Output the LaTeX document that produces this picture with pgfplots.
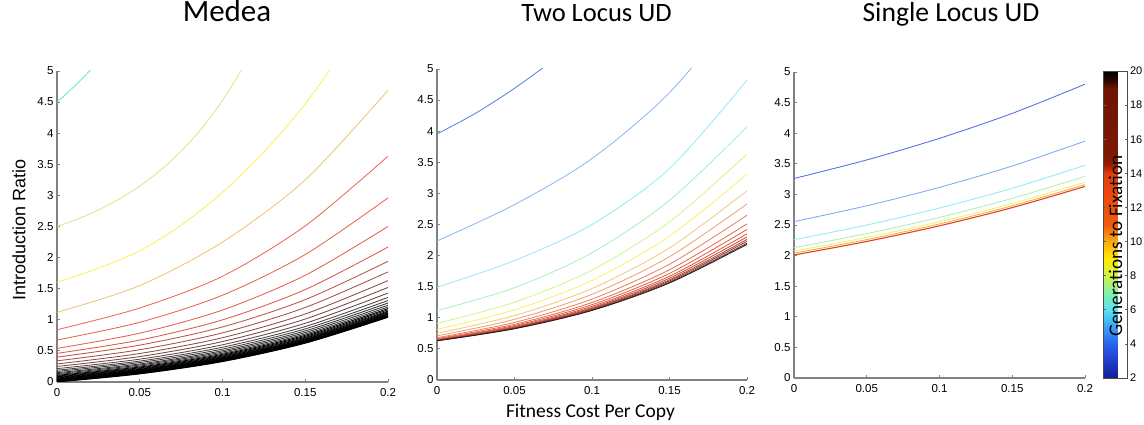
\documentclass[border=0pt]{standalone}
\usepackage{fontspec}
\setmainfont{Liberation Sans}
\newfontfamily\calibri{Carlito}
\usepackage{pgfplots}
\pgfplotsset{compat=1.18}

\definecolor{axgray}{RGB}{130,130,130}
% Medea
\definecolor{ma}{RGB}{110,230,210}
\definecolor{mb}{RGB}{200,240,140}
\definecolor{mc}{RGB}{248,240,90}
\definecolor{md}{RGB}{240,195,120}
\definecolor{me}{RGB}{235,105,85}
\definecolor{mf}{RGB}{232,100,80}
\definecolor{mg}{RGB}{228,95,75}
\definecolor{mh}{RGB}{215,90,72}
\definecolor{mi}{RGB}{185,85,70}
\definecolor{mj}{RGB}{160,82,72}
\definecolor{mk}{RGB}{135,78,72}
\definecolor{ml}{RGB}{115,72,70}
\definecolor{mm}{RGB}{95,68,68}
\definecolor{mn}{RGB}{80,65,65}
\definecolor{mo}{RGB}{65,60,60}
\definecolor{mp}{RGB}{50,50,50}
% Two locus
\definecolor{ta}{RGB}{90,130,230}
\definecolor{tb}{RGB}{140,185,240}
\definecolor{tc}{RGB}{150,235,245}
\definecolor{td}{RGB}{170,240,190}
\definecolor{te}{RGB}{210,245,140}
\definecolor{tf}{RGB}{250,240,110}
\definecolor{tg}{RGB}{245,200,130}
\definecolor{th}{RGB}{240,160,120}
\definecolor{ti}{RGB}{235,130,100}
\definecolor{tj}{RGB}{230,110,85}
\definecolor{tk}{RGB}{225,100,75}
\definecolor{tl}{RGB}{215,90,65}
\definecolor{tm}{RGB}{200,80,60}
\definecolor{tn}{RGB}{180,70,55}
\definecolor{to}{RGB}{150,60,50}
\definecolor{tp}{RGB}{110,50,45}
\definecolor{tq}{RGB}{40,30,30}
% Single locus
\definecolor{sa}{RGB}{80,110,225}
\definecolor{sb}{RGB}{120,170,240}
\definecolor{sc}{RGB}{140,235,245}
\definecolor{sd}{RGB}{170,240,180}
\definecolor{se}{RGB}{240,240,110}
\definecolor{sf}{RGB}{245,170,70}
\definecolor{sg}{RGB}{220,70,30}

\pgfplotsset{
  colormap={gen}{
    rgb255(4pt)=(20,30,150)
    rgb255(6pt)=(30,60,205)
    rgb255(8pt)=(40,100,235)
    rgb255(10pt)=(60,160,245)
    rgb255(12pt)=(90,225,245)
    rgb255(14pt)=(130,240,170)
    rgb255(16pt)=(210,245,70)
    rgb255(18pt)=(255,235,0)
    rgb255(20pt)=(250,170,20)
    rgb255(22pt)=(240,90,15)
    rgb255(28pt)=(230,60,10)
    rgb255(29pt)=(150,30,5)
    rgb255(30pt)=(125,25,3)
    rgb255(38pt)=(110,20,3)
    rgb255(39pt)=(40,5,0)
    rgb255(40pt)=(0,0,0)
  },
  panel/.style={
    scale only axis, anchor=south west,
    xmin=0, xmax=0.2, ymin=0, ymax=5,
    axis x line*=bottom, axis y line*=left,
    axis line style={-, draw=axgray, line width=1.1pt},
    xtick={0,0.05,0.1,0.15,0.2}, xticklabels={0,0.05,0.1,0.15,0.2},
    ytick={0,0.5,1,1.5,2,2.5,3,3.5,4,4.5,5},
    yticklabels={0,0.5,1,1.5,2,2.5,3,3.5,4,4.5,5},
    tick align=inside, major tick length=3pt,
    tick style={draw=axgray, line width=0.8pt},
    ticklabel style={font=\fontsize{11.5}{12}\selectfont},
    xticklabel style={yshift=-3pt},
    every axis plot/.append style={smooth, no marks, line width=0.85pt},
    title style={font=\calibri\fontsize{28}{30}\selectfont, anchor=base, yshift=0pt},
  },
}

\begin{document}
\begin{tikzpicture}
\useasboundingbox (0,0) rectangle (1144pt,425pt);

% ---------------- Medea ----------------
\begin{axis}[panel, at={(57pt,43pt)}, width=331pt, height=311pt,
  title={Medea},
  title style={at={(axis description cs:0.5136,1.1399)}, font=\calibri\fontsize{31}{32}\selectfont},
  ylabel={Introduction Ratio},
  ylabel style={font=\fontsize{18}{20}\selectfont, at={(axis description cs:-0.115,0.49)}, anchor=center, rotate=0}]
\addplot[ma] coordinates {(0,4.5) (0.01,4.74) (0.02,5.01) (0.03,5.3)};
\addplot[mb] coordinates {(0,2.5) (0.0125,2.62) (0.025,2.765) (0.0375,2.939) (0.05,3.15) (0.0625,3.404) (0.075,3.71) (0.0875,4.08) (0.1,4.526) (0.1125,5.064) (0.125,5.71)};
\addplot[mc] coordinates {(0,1.6) (0.025,1.83) (0.05,2.11) (0.075,2.52) (0.1,3.05) (0.125,3.7) (0.15,4.47) (0.175,5.4)};
\addplot[md] coordinates {(0,1.12) (0.05,1.55) (0.1,2.25) (0.15,3.25) (0.2,4.69)};
\addplot[me] coordinates {(0,0.84) (0.05,1.19) (0.1,1.70) (0.15,2.51) (0.2,3.63)};
\addplot[mf] coordinates {(0,0.675) (0.05,0.96) (0.1,1.395) (0.15,2.05) (0.2,2.96)};
\addplot[mg] coordinates {(0,0.54) (0.05,0.785) (0.1,1.157) (0.15,1.716) (0.2,2.5)};
\addplot[mh] coordinates {(0,0.46) (0.05,0.674) (0.1,0.999) (0.15,1.486) (0.2,2.17)};
\addplot[mi] coordinates {(0,0.40) (0.05,0.593) (0.1,0.885) (0.15,1.324) (0.2,1.94)};
\addplot[mj] coordinates {(0,0.34) (0.05,0.519) (0.1,0.79) (0.15,1.198) (0.2,1.77)};
\addplot[mk] coordinates {(0,0.29) (0.05,0.458) (0.1,0.712) (0.15,1.094) (0.2,1.63)};
\addplot[ml] coordinates {(0,0.25) (0.05,0.409) (0.1,0.65) (0.15,1.012) (0.2,1.52)};
\addplot[mm] coordinates {(0,0.215) (0.05,0.367) (0.1,0.598) (0.15,0.944) (0.2,1.43)};
\addplot[mn] coordinates {(0,0.19) (0.05,0.336) (0.1,0.559) (0.15,0.892) (0.2,1.36)};
\addplot[mo] coordinates {(0,0.17) (0.05,0.313) (0.1,0.529) (0.15,0.854) (0.2,1.31)};
\addplot[mp] coordinates {(0,0.15) (0.05,0.29) (0.1,0.503) (0.15,0.822) (0.2,1.27)};
\addplot[mp] coordinates {(0,0.135) (0.05,0.273) (0.1,0.482) (0.15,0.795) (0.2,1.235)};
\addplot[mp] coordinates {(0,0.12) (0.05,0.256) (0.1,0.462) (0.15,0.771) (0.2,1.205)};
\addplot[black] coordinates {(0,0.107) (0.05,0.241) (0.1,0.445) (0.15,0.751) (0.2,1.18)};
\addplot[black] coordinates {(0,0.095) (0.05,0.228) (0.1,0.43) (0.15,0.734) (0.2,1.16)};
\addplot[black] coordinates {(0,0.084) (0.05,0.216) (0.1,0.417) (0.15,0.718) (0.2,1.14)};
\addplot[black] coordinates {(0,0.074) (0.05,0.205) (0.1,0.405) (0.15,0.705) (0.2,1.125)};
\addplot[black] coordinates {(0,0.065) (0.05,0.196) (0.1,0.394) (0.15,0.692) (0.2,1.11)};
\addplot[black] coordinates {(0,0.057) (0.05,0.187) (0.1,0.386) (0.15,0.683) (0.2,1.1)};
\addplot[black] coordinates {(0,0.05) (0.05,0.18) (0.1,0.378) (0.15,0.674) (0.2,1.09)};
\addplot[black] coordinates {(0,0.043) (0.05,0.173) (0.1,0.37) (0.15,0.665) (0.2,1.08)};
\addplot[black] coordinates {(0,0.036) (0.05,0.166) (0.1,0.362) (0.15,0.658) (0.2,1.072)};
\addplot[black] coordinates {(0,0.03) (0.05,0.159) (0.1,0.355) (0.15,0.651) (0.2,1.065)};
\addplot[black] coordinates {(0,0.024) (0.05,0.154) (0.1,0.35) (0.15,0.646) (0.2,1.06)};
\addplot[black] coordinates {(0,0.018) (0.05,0.148) (0.1,0.345) (0.15,0.640) (0.2,1.055)};
\addplot[black] coordinates {(0,0.012) (0.05,0.142) (0.1,0.339) (0.15,0.635) (0.2,1.05)};
\addplot[black] coordinates {(0,0.006) (0.05,0.136) (0.1,0.333) (0.15,0.629) (0.2,1.045)};
\addplot[black] coordinates {(0,0.0) (0.05,0.13) (0.1,0.328) (0.15,0.624) (0.2,1.04)};
\end{axis}

% ---------------- Two Locus UD ----------------
\begin{axis}[panel, at={(437pt,45pt)}, width=310pt, height=311pt,
  title={Two Locus UD},
  title style={at={(axis description cs:0.5145,1.1334)}, font=\calibri\fontsize{26.5}{28}\selectfont},
  xlabel={Fitness Cost Per Copy},
  xlabel style={font=\calibri\fontsize{19.5}{21}\selectfont, at={(axis description cs:0.495,-0.122)}, anchor=base}]
\addplot[ta] coordinates {(0,3.955) (0.025,4.29) (0.05,4.69) (0.075,5.15) (0.1,5.7)};
\addplot[tb] coordinates {(0,2.235) (0.05,2.82) (0.1,3.56) (0.15,4.62) (0.2,6.1)};
\addplot[tc] coordinates {(0,1.49) (0.05,1.92) (0.1,2.50) (0.15,3.40) (0.2,4.82)};
\addplot[td] coordinates {(0,1.115) (0.05,1.484) (0.1,2.046) (0.15,2.888) (0.2,4.07)};
\addplot[te] coordinates {(0,0.91) (0.05,1.25) (0.1,1.767) (0.15,2.542) (0.2,3.63)};
\addplot[tf] coordinates {(0,0.815) (0.05,1.127) (0.1,1.601) (0.15,2.312) (0.2,3.31)};
\addplot[tg] coordinates {(0,0.75) (0.05,1.036) (0.1,1.471) (0.15,2.124) (0.2,3.04)};
\addplot[th] coordinates {(0,0.71) (0.05,0.975) (0.1,1.378) (0.15,1.982) (0.2,2.83)};
\addplot[ti] coordinates {(0,0.68) (0.05,0.926) (0.1,1.301) (0.15,1.862) (0.2,2.65)};
\addplot[tj] coordinates {(0,0.665) (0.05,0.896) (0.1,1.246) (0.15,1.772) (0.2,2.51)};
\addplot[tk] coordinates {(0,0.655) (0.05,0.876) (0.1,1.211) (0.15,1.714) (0.2,2.42)};
\addplot[tl] coordinates {(0,0.648) (0.05,0.861) (0.1,1.184) (0.15,1.669) (0.2,2.35)};
\addplot[tm] coordinates {(0,0.642) (0.05,0.849) (0.1,1.164) (0.15,1.637) (0.2,2.30)};
\addplot[tn] coordinates {(0,0.638) (0.05,0.841) (0.1,1.149) (0.15,1.611) (0.2,2.26)};
\addplot[to] coordinates {(0,0.635) (0.05,0.834) (0.1,1.137) (0.15,1.592) (0.2,2.23)};
\addplot[tp] coordinates {(0,0.632) (0.05,0.828) (0.1,1.126) (0.15,1.573) (0.2,2.20)};
\addplot[tq] coordinates {(0,0.63) (0.05,0.824) (0.1,1.118) (0.15,1.56) (0.2,2.18)};
\end{axis}

% ---------------- Single Locus UD ----------------
\begin{axis}[panel, at={(794pt,47pt)}, width=291pt, height=306pt,
  title={Single Locus UD},
  title style={at={(axis description cs:0.5395,1.1454)}, font=\calibri\fontsize{27.6}{29}\selectfont},
  colorbar, colormap name=gen, point meta min=2, point meta max=20,
  colorbar style={
    at={(parent axis.south east)}, anchor=south west, xshift=10pt,
    scale only axis, width=24pt, height=307pt,
    ytick={2,4,6,8,10,12,14,16,18,20},
    yticklabels={2,4,6,8,10,12,14,16,18,20},
    yticklabel pos=right,
    ticklabel style={font=\fontsize{11}{12}\selectfont},
    yticklabel style={xshift=-1pt},
    tick align=inside, major tick length=2.5pt,
    tick style={draw=black!60, line width=0.6pt},
    axis line style={draw=black!70, line width=0.6pt},
    ylabel={Generations to Fixation},
    ylabel style={font=\calibri\fontsize{19.2}{21}\selectfont, at={(axis description cs:0.5,0.429)}, anchor=center, rotate=0},
  }]
\addplot[sa] coordinates {(0,3.26) (0.05,3.563) (0.1,3.916) (0.15,4.324) (0.2,4.80)};
\addplot[sb] coordinates {(0,2.555) (0.05,2.814) (0.1,3.115) (0.15,3.464) (0.2,3.87)};
\addplot[sc] coordinates {(0,2.26) (0.05,2.499) (0.1,2.778) (0.15,3.10) (0.2,3.475)};
\addplot[sd] coordinates {(0,2.13) (0.05,2.36) (0.1,2.626) (0.15,2.935) (0.2,3.295)};
\addplot[se] coordinates {(0,2.075) (0.05,2.297) (0.1,2.554) (0.15,2.852) (0.2,3.20)};
\addplot[sf] coordinates {(0,2.04) (0.05,2.261) (0.1,2.517) (0.15,2.814) (0.2,3.16)};
\addplot[sg, line width=1.1pt] coordinates {(0,2.01) (0.05,2.231) (0.1,2.487) (0.15,2.784) (0.2,3.13)};
\end{axis}
\end{tikzpicture}
\end{document}
